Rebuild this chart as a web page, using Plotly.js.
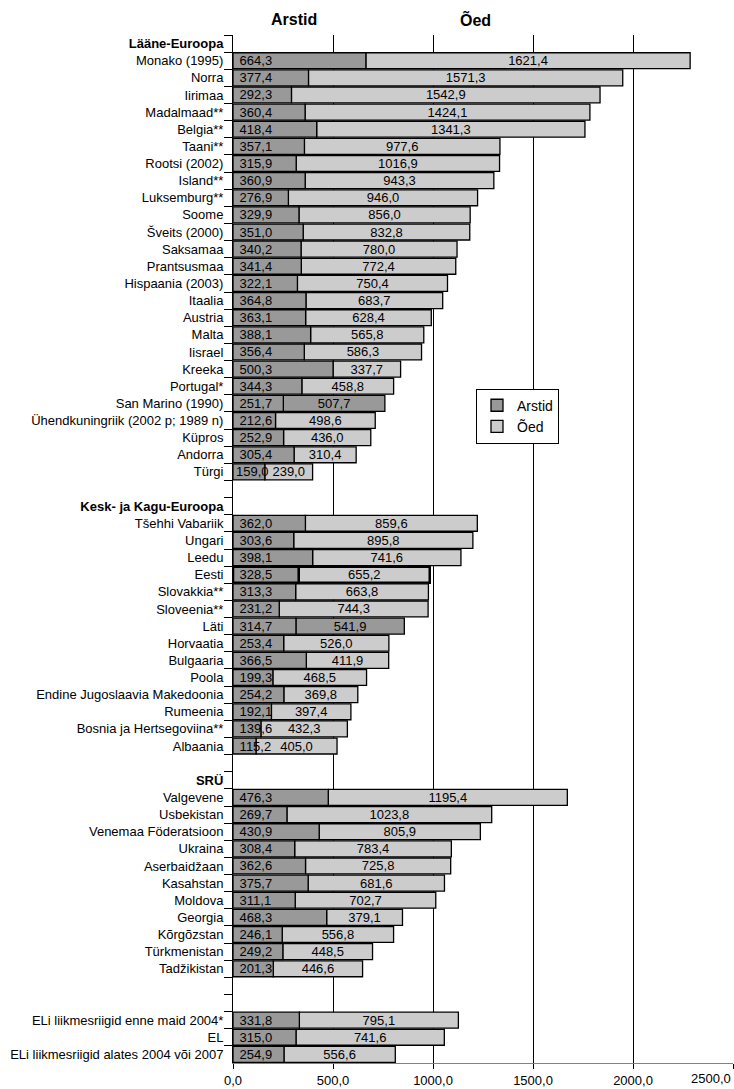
<!DOCTYPE html>
<html>
<head>
<meta charset="utf-8">
<script src="https://cdn.plot.ly/plotly-3.0.1.min.js"></script>
<style>html,body{margin:0;padding:0;background:#fff;}</style>
</head>
<body>
<div id="chart" style="width:734px;height:1089px;"></div>
<script>
// ---- data ----
var categories = [
  '<b>Lääne-Euroopa</b>',
  'Monako (1995)', 'Norra', 'Iirimaa', 'Madalmaad**', 'Belgia**', 'Taani**', 'Rootsi (2002)',
  'Island**', 'Luksemburg**', 'Soome', 'Šveits (2000)', 'Saksamaa', 'Prantsusmaa',
  'Hispaania (2003)', 'Itaalia', 'Austria', 'Malta', 'Iisrael', 'Kreeka', 'Portugal*',
  'San Marino (1990)', 'Ühendkuningriik (2002 p; 1989 n)', 'Küpros', 'Andorra', 'Türgi',
  ' ',
  '<b>Kesk- ja Kagu-Euroopa</b>',
  'Tšehhi Vabariik', 'Ungari', 'Leedu', 'Eesti', 'Slovakkia**', 'Sloveenia**', 'Läti',
  'Horvaatia', 'Bulgaaria', 'Poola', 'Endine Jugoslaavia Makedoonia', 'Rumeenia',
  'Bosnia ja Hertsegoviina**', 'Albaania',
  '  ',
  '<b>SRÜ</b>',
  'Valgevene', 'Usbekistan', 'Venemaa Föderatsioon', 'Ukraina', 'Aserbaidžaan', 'Kasahstan',
  'Moldova', 'Georgia', 'Kõrgõzstan', 'Türkmenistan', 'Tadžikistan',
  '   ', '    ',
  'ELi liikmesriigid enne maid 2004*', 'EL', 'ELi liikmesriigid alates 2004 või 2007'
];
var arstid = [
  null,
  664.3, 377.4, 292.3, 360.4, 418.4, 357.1, 315.9,
  360.9, 276.9, 329.9, 351.0, 340.2, 341.4,
  322.1, 364.8, 363.1, 388.1, 356.4, 500.3, 344.3,
  251.7, 212.6, 252.9, 305.4, 159.0,
  null,
  null,
  362.0, 303.6, 398.1, 328.5, 313.3, 231.2, 314.7,
  253.4, 366.5, 199.3, 254.2, 192.1,
  139.6, 115.2,
  null,
  null,
  476.3, 269.7, 430.9, 308.4, 362.6, 375.7,
  311.1, 468.3, 246.1, 249.2, 201.3,
  null, null,
  331.8, 315.0, 254.9
];
var oed = [
  null,
  1621.4, 1571.3, 1542.9, 1424.1, 1341.3, 977.6, 1016.9,
  943.3, 946.0, 856.0, 832.8, 780.0, 772.4,
  750.4, 683.7, 628.4, 565.8, 586.3, 337.7, 458.8,
  507.7, 498.6, 436.0, 310.4, 239.0,
  null,
  null,
  859.6, 895.8, 741.6, 655.2, 663.8, 744.3, 541.9,
  526.0, 411.9, 468.5, 369.8, 397.4,
  432.3, 405.0,
  null,
  null,
  1195.4, 1023.8, 805.9, 783.4, 725.8, 681.6,
  702.7, 379.1, 556.8, 448.5, 446.6,
  null, null,
  795.1, 741.6, 556.6
];
var xTicks = [0, 500, 1000, 1500, 2000, 2500];
var seriesNames = ['Arstid', 'Õed'];
// rows whose Õed segment is drawn in the darker shade in the original
var oedDarkRows = ['San Marino (1990)', 'Läti'];
var thickBorderRows = ['Eesti'];

// ---- helpers ----
function fmt(v) { return v == null ? '' : v.toFixed(1).replace('.', ','); }
var DARK = '#999999', LIGHT = '#cccccc';
var FONT = 'Liberation Sans, Arial, sans-serif';

var lineWidths = categories.map(function (c) { return thickBorderRows.indexOf(c) >= 0 ? 2.5 : 1.3; });

// Õed segment sits on top of the Arstid segment (explicit base), drawn first
var traceO = {
  type: 'bar', orientation: 'h', name: seriesNames[1], legendrank: 2,
  y: categories, x: oed, base: arstid,
  text: oed.map(fmt),
  textposition: 'inside', insidetextanchor: 'middle', textangle: 0, constraintext: 'none',
  textfont: { family: FONT, size: 13, color: '#000' },
  marker: {
    color: categories.map(function (c) { return oedDarkRows.indexOf(c) >= 0 ? DARK : LIGHT; }),
    line: { color: '#000', width: lineWidths }
  },
  hoverinfo: 'skip', cliponaxis: false
};
// Arstid drawn last so its labels may overflow onto the Õed segment
var traceA = {
  type: 'bar', orientation: 'h', name: seriesNames[0], legendrank: 1,
  y: categories, x: arstid,
  text: arstid.map(function (v, i) {
    if (v == null) return '';
    var tight = (v + (oed[i] || 0)) < 400;   // very short rows: no extra padding
    return (tight ? '' : '\u00a0') + fmt(v);
  }),
  textposition: 'inside', insidetextanchor: 'start', textangle: 0, constraintext: 'none',
  textfont: { family: FONT, size: 13, color: '#000' },
  marker: { color: DARK, line: { color: '#000', width: lineWidths } },
  hoverinfo: 'skip', cliponaxis: false
};

var layout = {
  width: 734, height: 1089,
  margin: { l: 233, r: 1, t: 35, b: 26 },
  paper_bgcolor: '#fff', plot_bgcolor: '#fff',
  font: { family: FONT, size: 13, color: '#000' },
  barmode: 'overlay', bargap: 0.07,
  showlegend: true,
  legend: {
    x: 0.486, y: 0.656, xanchor: 'left', yanchor: 'top',
    bgcolor: '#fff', bordercolor: '#000', borderwidth: 1,
    font: { family: FONT, size: 14, color: '#000' },
    traceorder: 'normal', tracegroupgap: 14
  },
  xaxis: {
    range: [0, 2500], tickmode: 'array', tickvals: xTicks,
    ticktext: xTicks.map(function (v, i) { return i === xTicks.length - 1 ? '' : fmt(v); }),
    showgrid: true, gridcolor: '#000', gridwidth: 1,
    zeroline: false, showline: true, linecolor: '#808080', linewidth: 1,
    ticks: 'outside', ticklen: 5, tickcolor: '#000',
    tickfont: { family: FONT, size: 13, color: '#000' }, fixedrange: true
  },
  yaxis: {
    type: 'category', categoryorder: 'array', categoryarray: categories,
    autorange: 'reversed',
    showgrid: false, zeroline: false, showline: true, linecolor: '#000', linewidth: 1,
    ticks: 'outside', tickson: 'boundaries', ticklen: 8, tickcolor: '#000',
    ticklabelstandoff: 6,
    tickfont: { family: FONT, size: 13, color: '#000' }, fixedrange: true
  },
  annotations: [
    { text: '<b>' + seriesNames[0] + '</b>', xref: 'paper', yref: 'paper', x: 0.122, y: 1.0146,
      xanchor: 'center', yanchor: 'middle', showarrow: false, font: { family: FONT, size: 16, color: '#000' } },
    { text: '<b>' + seriesNames[1] + '</b>', xref: 'paper', yref: 'paper', x: 0.484, y: 1.0146,
      xanchor: 'center', yanchor: 'middle', showarrow: false, font: { family: FONT, size: 16, color: '#000' } },
    { text: fmt(xTicks[xTicks.length - 1]), xref: 'x', yref: 'paper', x: xTicks[xTicks.length - 1], y: 0,
      xanchor: 'right', yanchor: 'top', yshift: -6, showarrow: false, font: { family: FONT, size: 13, color: '#000' } }
  ]
};

Plotly.newPlot('chart', [traceO, traceA], layout, { displayModeBar: false, staticPlot: true });
</script>
</body>
</html>
